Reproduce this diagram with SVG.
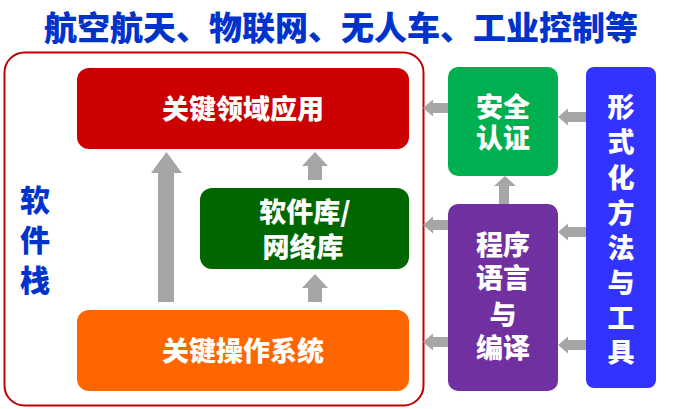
<svg xmlns="http://www.w3.org/2000/svg" width="686" height="409" viewBox="0 0 686 409">
<style>
text{font-family:"Noto Sans CJK SC","Noto Sans",sans-serif;font-weight:900;text-anchor:middle}
.w{fill:#fff;font-size:27px}
.ar{fill:#A6A6A6}
</style>
<rect width="686" height="409" fill="#fff"/>
<text x="341" y="40" style="fill:#0033CC;font-size:33px">航空航天、物联网、无人车、工业控制等</text>
<g id="stack">
<rect x="4.5" y="52.5" width="419" height="353" rx="20" fill="none" stroke="#C00000" stroke-width="2"/>
<text style="fill:#0033CC;font-size:30px"><tspan x="35" y="211">软</tspan><tspan x="35" y="251">件</tspan><tspan x="35" y="291">栈</tspan></text>
</g>
<g id="connectors" class="ar">
<polygon points="158,302 158,173 151,173 166.5,152 182,173 174,173 174,302"/>
<polygon points="308,180 308,166 302,166 315,152 328,166 322,166 322,180"/>
<polygon points="308,302 308,288 302,288 315,274 328,288 322,288 322,302"/>
<polygon points="448,103 433,103 433,99.5 423,108 433,116.5 433,113 448,113"/>
<polygon points="448,220 433,220 433,216.5 423,225 433,233.5 433,230 448,230"/>
<polygon points="448,337 433,337 433,333.5 423,342 433,350.5 433,347 448,347"/>
<polygon points="586,112 568,112 568,108.5 558,117 568,125.5 568,122 586,122"/>
<polygon points="586,227 568,227 568,223.5 558,232 568,240.5 568,237 586,237"/>
<polygon points="586,340 568,340 568,336.5 558,345 568,353.5 568,350 586,350"/>
<polygon points="499,204 499,186 494,186 505,176 516,186 509,186 509,204"/>
</g>
<g id="app">
<rect x="77" y="68" width="332" height="81" rx="12" fill="#CC0000"/>
<text class="w" x="243" y="119">关键领域应用</text>
</g>
<g id="lib">
<rect x="200" y="188" width="209" height="81" rx="12" fill="#006600"/>
<text class="w"><tspan x="305" y="222">软件库/</tspan><tspan x="303" y="257">网络库</tspan></text>
</g>
<g id="os">
<rect x="77" y="310" width="332" height="81" rx="12" fill="#FF6600"/>
<text class="w" x="243" y="361">关键操作系统</text>
</g>
<g id="cert">
<rect x="448" y="67" width="110" height="109" rx="10" fill="#00B050"/>
<text class="w"><tspan x="503" y="117">安全</tspan><tspan x="503" y="148">认证</tspan></text>
</g>
<g id="lang">
<rect x="448" y="204" width="110" height="187" rx="10" fill="#7030A0"/>
<text class="w"><tspan x="503" y="255">程序</tspan><tspan x="503" y="288">语言</tspan><tspan x="503" y="325">与</tspan><tspan x="503" y="358">编译</tspan></text>
</g>
<g id="formal">
<rect x="586" y="67" width="70" height="321" rx="8" fill="#3333FF"/>
<text class="w"><tspan x="621" y="117">形</tspan><tspan x="621" y="152">式</tspan><tspan x="621" y="188">化</tspan><tspan x="621" y="223">方</tspan><tspan x="621" y="258">法</tspan><tspan x="621" y="293">与</tspan><tspan x="621" y="328">工</tspan><tspan x="621" y="362">具</tspan></text>
</g>
</svg>
